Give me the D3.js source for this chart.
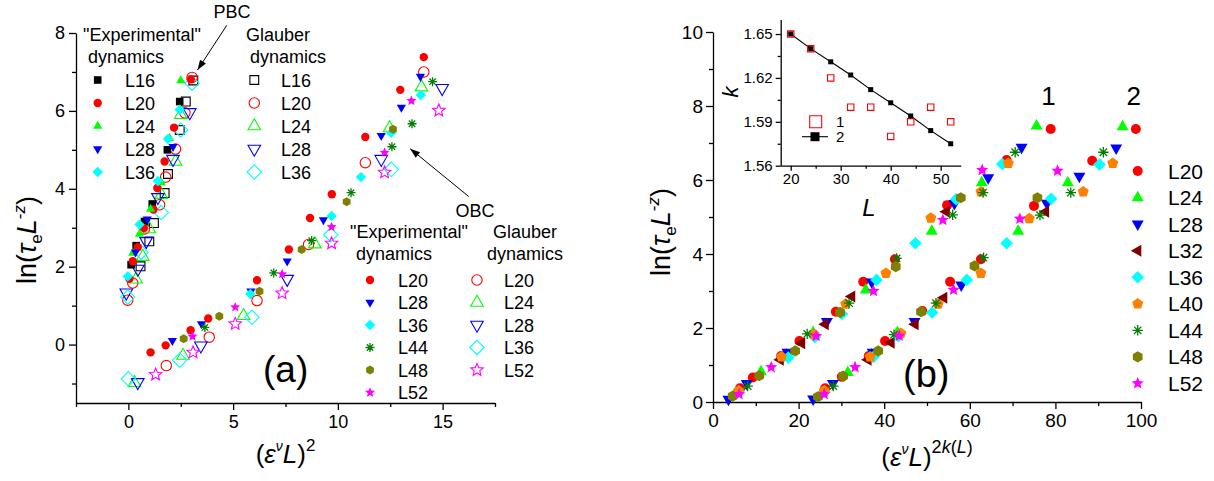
<!DOCTYPE html>
<html><head><meta charset="utf-8">
<script src="https://cdn.jsdelivr.net/npm/d3@7"></script>
<style>
body{margin:0;background:#fff}
svg text{font-family:"Liberation Sans",Arial,sans-serif;fill:#000}
</style>
</head><body>
<script>
// ---------- Panel (a): PBC, "Experimental" dynamics ----------
const pbcExpL16 = [[0.13,2.05],[0.37,2.54],[0.77,3.16],[1.14,3.61],[1.86,5.0],[2.45,6.24]];
const pbcExpL20 = [[0.05,1.69],[0.21,2.14],[0.45,2.5],[0.74,2.99],[1.2,3.47],[1.38,4.02],[1.73,4.7],[2.18,5.57],[2.98,6.81]];
const pbcExpL24 = [[0.21,2.35],[0.53,2.84],[1.06,3.48],[1.57,4.16],[1.97,5.3],[2.5,6.78]];
const pbcExpL28 = [[0.34,2.37],[0.9,3.22],[2.13,5.08]];
const pbcExpL36 = [[-0.03,1.75],[0.53,3.08],[1.41,4.2],[1.89,5.28],[2.45,6.03]];
// PBC, Glauber dynamics
const pbcGlbL16 = [[0.58,2.01],[1.0,2.65],[1.22,3.12],[1.73,3.89],[1.89,4.38],[2.45,5.51],[2.74,6.24],[3.1,6.78]];
const pbcGlbL20 = [[-0.03,1.14],[0.21,1.58],[0.77,2.97],[1.49,3.59],[1.78,4.3],[2.25,5.02],[2.7,5.95],[3.04,6.86]];
const pbcGlbL24 = [[0.37,1.68],[0.69,2.26],[1.0,2.97],[1.57,3.85],[2.25,4.7],[2.5,5.9]];
const pbcGlbL28 = [[-0.1,1.33],[0.45,1.94],[0.85,2.65],[1.41,3.78],[2.13,4.76],[2.93,5.96]];
const pbcGlbL36 = [[-0.03,1.22],[0.61,2.37],[1.57,3.39],[2.5,5.51],[3.04,6.71]];
// OBC, "Experimental" dynamics
const obcExpL20 = [[1.06,-0.2],[1.78,-0.02],[2.97,0.37],[3.81,0.67],[6.14,1.65],[7.66,2.44],[8.67,3.25],[9.71,3.86],[11.31,5.33],[12.98,6.54],[14.1,7.38]];
const obcExpL28 = [[2.1,0.1],[3.49,0.53],[5.85,1.37],[7.58,2.14],[9.31,3.2],[12.07,5.36],[13.03,6.09],[13.94,6.88]];
const obcExpL36 = [[5.82,1.3],[9.7,3.3],[11.1,4.3],[12.55,5.44],[13.96,6.41]];
const obcExpL44 = [[3.65,0.44],[6.94,1.84],[8.75,2.67],[10.63,3.9],[12.58,5.08],[13.54,5.67],[14.52,6.75]];
const obcExpL48 = [[2.64,0.15],[4.34,0.73],[6.26,1.37],[8.27,2.44],[10.42,3.67],[12.63,5.53]];
const obcExpL52 = [[3.06,0.21],[5.1,0.96],[7.34,1.81],[9.7,3.02],[12.23,4.93],[13.51,6.26]];
// OBC, Glauber dynamics
const obcGlbL20 = [[1.81,-0.54],[3.86,0.19],[6.14,1.13],[8.6,2.57],[11.31,4.67],[14.1,7.0]];
const obcGlbL24 = [[0.29,-0.98],[2.61,-0.28],[5.5,0.74],[8.9,2.58],[12.47,5.56],[13.99,6.61]];
const obcGlbL28 = [[0.45,-0.97],[3.46,-0.03],[7.58,1.68],[12.07,4.76],[14.98,6.58]];
const obcGlbL36 = [[0.0,-0.88],[2.45,-0.4],[5.9,0.7],[9.66,2.82],[12.55,4.5]];
const obcGlbL52 = [[1.3,-0.77],[3.09,-0.2],[5.1,0.53],[7.34,1.32],[9.7,2.6],[12.23,4.42],[14.82,6.01]];

// ---------- Panel (b): collapse with k(L), curve "1" ----------
const c1L20 = [[6.3,0.37],[9.3,0.66],[15.9,1.24],[20.2,1.65],[28.7,2.44],[35.1,3.25],[42.5,3.86],[54.7,5.32],[68.6,6.54],[78.9,7.38]];
const c1L24 = [[5.3,0.25],[11.2,0.82],[17.2,1.28],[23.4,1.88],[35.7,3.03],[51.1,4.62],[62.8,5.93],[75.6,7.46]];
const c1L28 = [[3.6,0.07],[7.9,0.5],[17.4,1.34],[26.6,2.17],[37.1,3.24],[56.4,5.36],[64.3,6.06],[72.1,6.88]];
const c1L32 = [[15.7,1.14],[20.7,1.59],[26.2,2.1],[32.4,2.85],[54.5,5.14]];
const c1L36 = [[6.0,0.28],[17.6,1.2],[23.8,1.76],[30.1,2.38],[38.2,3.3],[47.3,4.29],[56.8,5.48],[67.6,6.43]];
const c1L40 = [[6.0,0.3],[16.0,1.22],[23.6,1.83],[31.0,2.65],[40.4,3.48],[50.9,4.97],[62.6,5.68],[69.0,6.45]];
const c1L44 = [[8.1,0.43],[22.0,1.84],[31.8,2.67],[42.9,3.88],[56.0,5.06],[63.1,5.66],[70.6,6.75]];
const c1L48 = [[4.6,0.16],[10.8,0.71],[19.2,1.38],[29.7,2.42],[42.7,3.66],[57.9,5.52]];
const c1L52 = [[6.1,0.21],[13.6,0.94],[24.1,1.78],[37.5,3.0],[53.7,4.92],[62.9,6.27]];
// curve "2"
const c2L20 = [[26.2,0.37],[30.1,0.68],[36.4,1.24],[40.2,1.65],[48.9,2.46],[55.4,3.25],[62.6,3.86],[75.0,5.3],[88.6,6.52],[98.8,7.38]];
const c2L24 = [[25.5,0.25],[31.5,0.8],[37.0,1.28],[43.1,1.88],[71.3,4.62],[82.9,5.93],[95.7,7.44]];
const c2L28 = [[23.4,0.08],[28.0,0.5],[37.3,1.34],[47.1,2.17],[58.0,3.16],[78.0,5.37],[85.6,6.1],[94.2,6.86]];
const c2L32 = [[36.2,1.14],[41.6,1.6],[47.2,2.1],[53.9,2.82],[77.7,5.14]];
const c2L36 = [[26.0,0.28],[37.5,1.22],[43.3,1.78],[51.2,2.42],[59.3,3.3],[68.6,4.29],[79.0,5.49],[90.3,6.42]];
const c2L40 = [[26.0,0.3],[36.7,1.22],[43.9,1.86],[52.6,2.65],[62.6,3.48],[73.9,4.96],[86.5,5.68],[93.4,6.45]];
const c2L44 = [[28.1,0.43],[42.3,1.82],[52.1,2.67],[63.2,3.9],[76.4,5.05],[83.6,5.66],[91.2,6.75]];
const c2L48 = [[24.5,0.14],[30.4,0.7],[38.6,1.38],[48.6,2.44],[61.1,3.68],[75.8,5.52]];
const c2L52 = [[26.0,0.21],[33.2,0.94],[43.5,1.79],[56.2,3.03],[71.7,4.95],[80.5,6.25]];

// ---------- Inset: k versus L ----------
const insetL = [20,24,28,32,36,40,44,48,52];
const insetK1 = [1.650,1.640,1.620,1.600,1.600,1.580,1.590,1.600,1.590];
const insetK2 = [1.650,1.640,1.631,1.622,1.612,1.603,1.594,1.584,1.575];

// ---------- tick values ----------
const ticksAx = [0,5,10,15], minorAx = [-2.5,2.5,7.5,12.5,17.5];
const ticksAy = [0,2,4,6,8], minorAy = [-1,1,3,5,7];
const ticksBx = [0,20,40,60,80,100], minorBx = [10,30,50,70,90];
const ticksBy = [0,2,4,6,8,10], minorBy = [1,3,5,7,9];
const ticksIx = [20,30,40,50], minorIx = [25,35,45];
const ticksIy = [1.56,1.59,1.62,1.65], minorIy = [1.575,1.605,1.635];

const FONT = '"Liberation Sans",Arial,sans-serif';
const C = {red:"#ff0000", green:"#00ff00", blue:"#0000ff", cyan:"#00ffff", black:"#000000",
           dgreen:"#008000", olive:"#808000", magenta:"#ff00ff", wine:"#800000", orange:"#ff8000"};

const svg = d3.select("body").append("svg").attr("width",1214).attr("height",481);

// ---------- marker shapes ----------
function poly(pts){ return "M" + pts.map(p => p[0].toFixed(2)+","+p[1].toFixed(2)).join("L") + "Z"; }
function regular(n, R, rot){ const a0 = -Math.PI/2 + (rot||0);
  return d3.range(n).map(i => [R*Math.cos(a0+2*Math.PI*i/n), R*Math.sin(a0+2*Math.PI*i/n)]); }
function markerPath(shape, r){
  switch(shape){
    case "square": return `M${-r},${-r}H${r}V${r}H${-r}Z`;
    case "circle": return `M${r},0A${r},${r} 0 1,1 ${-r},0A${r},${r} 0 1,1 ${r},0Z`;
    case "up": return poly([[0,-r*1.15],[r,r*0.6],[-r,r*0.6]]);
    case "down": return poly([[0,r*1.15],[r,-r*0.6],[-r,-r*0.6]]);
    case "left": return poly([[-r*1.15,0],[r*0.6,-r],[r*0.6,r]]);
    case "diamond": return poly([[0,-r],[r,0],[0,r],[-r,0]]);
    case "pentagon": return poly(regular(5,r));
    case "hexagon": return poly(regular(6,r));
    case "star": { const pts=[]; for(let i=0;i<10;i++){ const a=-Math.PI/2+Math.PI*i/5, R=i%2?r*0.45:r;
      pts.push([R*Math.cos(a),R*Math.sin(a)]);} return poly(pts); }
    case "asterisk": { let s=""; for(let i=0;i<4;i++){ const a=Math.PI*i/4;
      s+=`M${(r*Math.cos(a)).toFixed(2)},${(r*Math.sin(a)).toFixed(2)}L${(-r*Math.cos(a)).toFixed(2)},${(-r*Math.sin(a)).toFixed(2)}`;} return s; }
  }
}
function styleMarker(sel, s){
  if (s.shape === "asterisk") sel.attr("fill","none").attr("stroke",s.color).attr("stroke-width",1.3);
  else if (s.filled) sel.attr("fill",s.color).attr("stroke","none");
  else sel.attr("fill","none").attr("stroke",s.color).attr("stroke-width",1.1);
}
function plotSeries(g, s, x, y){
  g.append("g").selectAll("path").data(s.data).join("path")
    .attr("transform", d => `translate(${x(d[0])},${y(d[1])})`)
    .attr("d", markerPath(s.shape, s.r))
    .call(styleMarker, s);
}
function legendMarker(g, s, px, py){
  g.append("path").attr("transform",`translate(${px},${py})`).attr("d", markerPath(s.shape, s.r)).call(styleMarker, s);
}

// ---------- axes helpers ----------
function styleAxis(g, fs){
  g.attr("font-family", FONT).attr("font-size", fs);
  g.selectAll("path.domain").attr("stroke","#000").attr("stroke-width",1.3);
  g.selectAll(".tick line").attr("stroke","#000").attr("stroke-width",1.3);
  g.selectAll(".tick text").attr("fill","#000");
}
function drawAxes(x, y, opt){
  const [x0] = x.range(), [y0] = y.range();
  const gx = svg.append("g").attr("transform",`translate(0,${y0})`)
    .call(d3.axisBottom(x).tickValues(opt.tx).tickSize(opt.major).tickSizeOuter(0).tickPadding(opt.padX).tickFormat(opt.fx || d3.format("d")));
  styleAxis(gx, opt.fs);
  const gxm = svg.append("g").attr("transform",`translate(0,${y0})`)
    .call(d3.axisBottom(x).tickValues(opt.mx).tickSize(opt.minor).tickFormat(""));
  gxm.select(".domain").remove(); styleAxis(gxm, opt.fs);
  const gy = svg.append("g").attr("transform",`translate(${x0},0)`)
    .call(d3.axisLeft(y).tickValues(opt.ty).tickSize(opt.major).tickSizeOuter(0).tickPadding(opt.padY).tickFormat(opt.fy || d3.format("d")));
  styleAxis(gy, opt.fs);
  const gym = svg.append("g").attr("transform",`translate(${x0},0)`)
    .call(d3.axisLeft(y).tickValues(opt.my).tickSize(opt.minor).tickFormat(""));
  gym.select(".domain").remove(); styleAxis(gym, opt.fs);
}
function arrow(x1,y1,x2,y2){
  svg.append("line").attr("x1",x1).attr("y1",y1).attr("x2",x2).attr("y2",y2).attr("stroke","#000").attr("stroke-width",1);
  const a = Math.atan2(y2-y1, x2-x1), L = 10, W = 3.5;
  const bx = x2 - L*Math.cos(a), by = y2 - L*Math.sin(a);
  svg.append("path").attr("d", poly([[x2,y2],[bx - W*Math.sin(a), by + W*Math.cos(a)],[bx + W*Math.sin(a), by - W*Math.cos(a)]])).attr("fill","#000");
}
function txt(x, y, str, fs, anchor){
  return svg.append("text").attr("x",x).attr("y",y).attr("font-size",fs).attr("text-anchor",anchor||"start").text(str);
}

// ===================== Panel (a) =====================
const xA = d3.scaleLinear([-2.5,17.5],[76,495]);
const yA = d3.scaleLinear([-1.5,8],[403,33]);
drawAxes(xA, yA, {tx:ticksAx, mx:minorAx, ty:ticksAy, my:minorAy, major:7, minor:4, padX:5, padY:4, fs:18});

const fA = 4.2, tA = 4.6, oA = 5.2;   // filled circle / filled triangle / open circle radii
const seriesPbcExp = [
  {name:"L16", data:pbcExpL16, shape:"square",  color:C.black, filled:true, r:3.8},
  {name:"L20", data:pbcExpL20, shape:"circle",  color:C.red,   filled:true, r:fA},
  {name:"L24", data:pbcExpL24, shape:"up",      color:C.green, filled:true, r:tA},
  {name:"L28", data:pbcExpL28, shape:"down",    color:C.blue,  filled:true, r:tA},
  {name:"L36", data:pbcExpL36, shape:"diamond", color:C.cyan,  filled:true, r:5.2}];
const seriesPbcGlb = [
  {name:"L16", data:pbcGlbL16, shape:"square",  color:C.black, filled:false, r:4.4},
  {name:"L20", data:pbcGlbL20, shape:"circle",  color:C.red,   filled:false, r:oA},
  {name:"L24", data:pbcGlbL24, shape:"up",      color:C.green, filled:false, r:6.3},
  {name:"L28", data:pbcGlbL28, shape:"down",    color:C.blue,  filled:false, r:6.3},
  {name:"L36", data:pbcGlbL36, shape:"diamond", color:C.cyan,  filled:false, r:7.2}];
const seriesObcExp = [
  {name:"L20", data:obcExpL20, shape:"circle",   color:C.red,     filled:true, r:fA},
  {name:"L28", data:obcExpL28, shape:"down",     color:C.blue,    filled:true, r:tA},
  {name:"L36", data:obcExpL36, shape:"diamond",  color:C.cyan,    filled:true, r:5.2},
  {name:"L44", data:obcExpL44, shape:"asterisk", color:C.dgreen,  filled:true, r:4.5},
  {name:"L48", data:obcExpL48, shape:"hexagon",  color:C.olive,   filled:true, r:4.5},
  {name:"L52", data:obcExpL52, shape:"star",     color:C.magenta, filled:true, r:5.3}];
const seriesObcGlb = [
  {name:"L20", data:obcGlbL20, shape:"circle",  color:C.red,     filled:false, r:oA},
  {name:"L24", data:obcGlbL24, shape:"up",      color:C.green,   filled:false, r:6.3},
  {name:"L28", data:obcGlbL28, shape:"down",    color:C.blue,    filled:false, r:6.3},
  {name:"L36", data:obcGlbL36, shape:"diamond", color:C.cyan,    filled:false, r:7.2},
  {name:"L52", data:obcGlbL52, shape:"star",    color:C.magenta, filled:false, r:6.5}];

const gA = svg.append("g");
[...seriesPbcGlb, ...seriesObcGlb, ...seriesPbcExp, ...seriesObcExp].forEach(s => plotSeries(gA, s, xA, yA));

// legends of panel (a)
function legendBlock(series, title1, t1x, title2, t2x, ty, mx, lx, y0, dy){
  txt(t1x, ty, title1, 18); txt(t2x, ty+22, title2, 18);
  series.forEach((s,i) => { legendMarker(svg, s, mx, y0+i*dy); txt(lx, y0+i*dy+6.5, s.name, 18); });
}
legendBlock(seriesPbcExp, '"Experimental"', 83, "dynamics", 88, 41, 97.7, 125, 80, 23);
legendBlock(seriesPbcGlb, "Glauber", 246, "dynamics", 250, 41, 254.3, 281, 80, 23);
legendBlock(seriesObcExp, '"Experimental"', 350, "dynamics", 356, 238, 370, 398, 280, 22.5);
legendBlock(seriesObcGlb, "Glauber", 493, "dynamics", 487, 238, 477, 504, 280, 22.5);

// boundary condition annotations
txt(xA(4.95), yA(8.38), "PBC", 18, "middle");
arrow(xA(4.7), yA(8.2), xA(3.3), yA(7.05));
txt(xA(16.55), yA(3.28), "OBC", 18, "middle");
arrow(xA(16.25), yA(3.8), xA(13.45), yA(5.03));
txt(263, 382, "(a)", 37);

// axis titles
function yTitle(cx, cy){
  const t = svg.append("text").attr("transform",`translate(${cx},${cy}) rotate(-90)`).attr("text-anchor","middle").attr("font-size",27);
  t.append("tspan").text("ln(");
  t.append("tspan").attr("font-style","italic").text("τ");
  t.append("tspan").attr("font-size",17).attr("dy",6).text("e");
  t.append("tspan").attr("font-style","italic").attr("dy",-6).text("L");
  t.append("tspan").attr("font-size",17).attr("dy",-11).text("-");
  t.append("tspan").attr("font-size",17).attr("font-style","italic").text("z");
  t.append("tspan").attr("dy",11).text(")");
}
yTitle(36, 240);
{
  const t = svg.append("text").attr("x",285.5).attr("y",463).attr("text-anchor","middle").attr("font-size",26);
  t.append("tspan").text("(");
  t.append("tspan").attr("font-style","italic").text("ε");
  t.append("tspan").attr("font-size",14).attr("dy",-12).attr("font-style","italic").text("ν");
  t.append("tspan").attr("font-style","italic").attr("dy",12).text("L");
  t.append("tspan").text(")");
  t.append("tspan").attr("font-size",17).attr("dy",-12).text("2");
}

// ===================== Panel (b) =====================
const xB = d3.scaleLinear([0,100],[713,1141]);
const yB = d3.scaleLinear([0,10],[402,32]);
drawAxes(xB, yB, {tx:ticksBx, mx:minorBx, ty:ticksBy, my:minorBy, major:7, minor:4, padX:5, padY:3, fs:19});

const seriesB = [
  {name:"L20", c1:c1L20, c2:c2L20, shape:"circle",   color:C.red,     filled:true, r:5},
  {name:"L24", c1:c1L24, c2:c2L24, shape:"up",       color:C.green,   filled:true, r:6},
  {name:"L28", c1:c1L28, c2:c2L28, shape:"down",     color:C.blue,    filled:true, r:6},
  {name:"L32", c1:c1L32, c2:c2L32, shape:"left",     color:C.wine,    filled:true, r:6},
  {name:"L36", c1:c1L36, c2:c2L36, shape:"diamond",  color:C.cyan,    filled:true, r:6.3},
  {name:"L40", c1:c1L40, c2:c2L40, shape:"pentagon", color:C.orange,  filled:true, r:5.8},
  {name:"L44", c1:c1L44, c2:c2L44, shape:"asterisk", color:C.dgreen,  filled:true, r:5.2},
  {name:"L48", c1:c1L48, c2:c2L48, shape:"hexagon",  color:C.olive,   filled:true, r:5.6},
  {name:"L52", c1:c1L52, c2:c2L52, shape:"star",     color:C.magenta, filled:true, r:6.4}];
const gB = svg.append("g");
seriesB.forEach(s => { plotSeries(gB, {...s, data:s.c1}, xB, yB); plotSeries(gB, {...s, data:s.c2}, xB, yB); });
seriesB.forEach((s,i) => { legendMarker(svg, s, 1137.7, 171 + i*26.55); txt(1168, 171 + i*26.55 + 7.5, s.name, 21); });

txt(xB(78.4), 105, "1", 26, "middle");
txt(xB(98.3), 105, "2", 26, "middle");
txt(903, 387, "(b)", 38);

yTitle(670, 232);
{
  const t = svg.append("text").attr("x",927).attr("y",466).attr("text-anchor","middle").attr("font-size",26);
  t.append("tspan").text("(");
  t.append("tspan").attr("font-style","italic").text("ε");
  t.append("tspan").attr("font-size",14).attr("dy",-12).attr("font-style","italic").text("ν");
  t.append("tspan").attr("font-style","italic").attr("dy",12).text("L");
  t.append("tspan").text(")");
  t.append("tspan").attr("font-size",18).attr("dy",-13).text("2");
  t.append("tspan").attr("font-size",18).attr("font-style","italic").text("k");
  t.append("tspan").attr("font-size",18).text("(");
  t.append("tspan").attr("font-size",18).attr("font-style","italic").text("L");
  t.append("tspan").attr("font-size",18).text(")");
}

// ===================== Inset =====================
const xI = d3.scaleLinear([18,54],[780.7,960.7]);
const yI = d3.scaleLinear([1.56,1.66],[165.7,19.4]);
drawAxes(xI, yI, {tx:ticksIx, mx:minorIx, ty:ticksIy, my:minorIy, major:5, minor:3, padX:3, padY:3, fs:15, fy:d3.format(".2f")});
const insetPts2 = insetL.map((l,i) => [l, insetK2[i]]);
const insetPts1 = insetL.map((l,i) => [l, insetK1[i]]);
svg.append("path").attr("d", d3.line().x(d=>xI(d[0])).y(d=>yI(d[1]))(insetPts2))
  .attr("fill","none").attr("stroke","#000").attr("stroke-width",1.1);
const s1 = {data:insetPts1, shape:"square", color:C.red, filled:false, r:3.2};
const s2 = {data:insetPts2, shape:"square", color:C.black, filled:true, r:2.5};
plotSeries(svg, s1, xI, yI);
plotSeries(svg, s2, xI, yI);
legendMarker(svg, {...s1, r:6}, 815.7, 121.7);
txt(836, 127, "1", 15);
svg.append("line").attr("x1",802).attr("x2",828).attr("y1",136.7).attr("y2",136.7).attr("stroke","#000").attr("stroke-width",1.1);
legendMarker(svg, {...s2, r:4.5}, 815, 136.7);
txt(836, 142, "2", 15);
svg.append("text").attr("transform","translate(738,92) rotate(-90)").attr("text-anchor","middle")
  .attr("font-size",22).attr("font-style","italic").text("k");
txt(869, 216, "L", 24, "middle").attr("font-style","italic");
</script>
</body></html>
